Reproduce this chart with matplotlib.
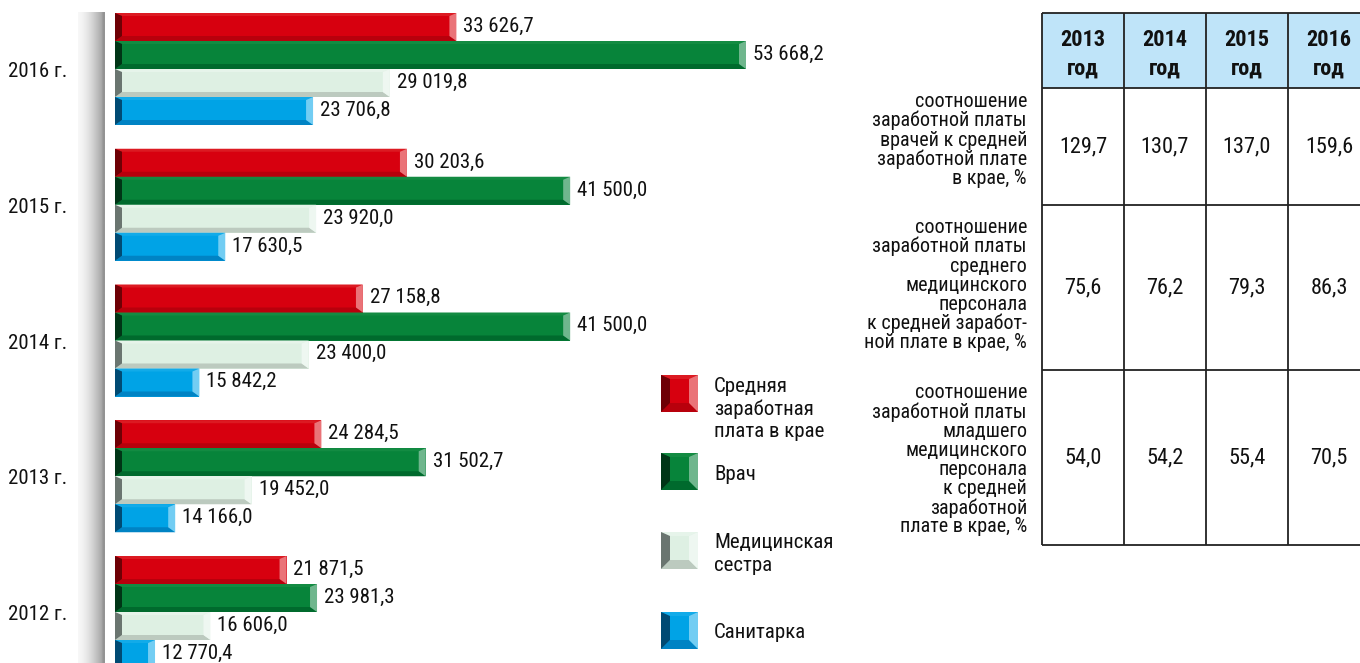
import numpy as np
import matplotlib
matplotlib.use("Agg")
import matplotlib.pyplot as plt
from matplotlib.patches import Polygon, Rectangle
from matplotlib import font_manager as fm

# ---------------- data ----------------
years = ["2016 г.", "2015 г.", "2014 г.", "2013 г.", "2012 г."]
avg_region = [33626.7, 30203.6, 27158.8, 24284.5, 21871.5]
doctor = [53668.2, 41500.0, 41500.0, 31502.7, 23981.3]
nurse = [29019.8, 23920.0, 23400.0, 19452.0, 16606.0]
junior = [23706.8, 17630.5, 15842.2, 14166.0, 12770.4]
series_names = ["Средняя\nзаработная\nплата в крае", "Врач", "Медицинская\nсестра", "Санитарка"]

table_cols = ["2013\nгод", "2014\nгод", "2015\nгод", "2016\nгод"]
table_rows = [
    "соотношение\nзаработной платы\nврачей к средней\nзаработной плате\nв крае, %",
    "соотношение\nзаработной платы\nсреднего\nмедицинского\nперсонала\nк средней заработ-\nной плате в крае, %",
    "соотношение\nзаработной платы\nмладшего\nмедицинского\nперсонала\nк средней\nзаработной\nплате в крае, %",
]
ratio_doctor = ["129,7", "130,7", "137,0", "159,6"]
ratio_nurse = ["75,6", "76,2", "79,3", "86,3"]
ratio_junior = ["54,0", "54,2", "55,4", "70,5"]

# ---------------- fonts ----------------
avail = {f.name for f in fm.fontManager.ttflist}
FONT = next((f for f in ["Roboto Condensed", "PT Sans Narrow", "Liberation Sans Narrow", "Roboto", "DejaVu Sans"]
             if f in avail), "DejaVu Sans")
plt.rcParams["font.family"] = [FONT, "DejaVu Sans"]

W, H = 1360, 663
fig = plt.figure(figsize=(W / 100, H / 100), dpi=100)
fig.patch.set_facecolor("white")

def fx(px):
    return px / W

def fy(py):
    return 1 - py / H

# ---------------- main bar axes ----------------
ax_left, ax_right = 115, 835
x0v = 10000.0
scale = 631 / (53668.2 - x0v)  # px per unit
xmax = x0v + (ax_right - ax_left) / scale
ax = fig.add_axes([fx(ax_left), 0, fx(ax_right - ax_left), 1])
ax.set_xlim(x0v, xmax)
grp = 135.75
ax.set_ylim((H - 69) / grp, -69 / grp)
ax.axis("off")

bar_h = 28 / grp
colors = [
    # body, bottom, top, left cap, right cap
    ("#d7000f", "#b8000c", "#dc1a22", "#6e0005", "#ea7378"),
    ("#07843a", "#006a2d", "#138b42", "#003516", "#6fb68d"),
    ("#def0e3", "#bccabf", "#e6f4ea", "#6a7570", "#eef7f1"),
    ("#00a3e6", "#0083c4", "#12abe9", "#004a73", "#72cdf3"),
]
all_series = [avg_region, doctor, nurse, junior]
bw = 7 / scale          # bevel width in data units
bb = 5 / 28 * bar_h     # bottom bevel height
bt = 3 / 28 * bar_h

yidx = np.arange(len(years))
for s, (vals, col) in enumerate(zip(all_series, colors)):
    yc = yidx + (s - 1.5) * bar_h
    ax.barh(yc, np.array(vals) - x0v, left=x0v, height=bar_h, color=col[0], linewidth=0)
    for yv, v in zip(yc, vals):
        yt, yb = yv - bar_h / 2, yv + bar_h / 2
        x1 = v
        ax.add_patch(Polygon([(x0v, yb), (x0v + bw, yb - bb), (x1 - bw, yb - bb), (x1, yb)],
                             closed=True, color=col[1], lw=0))
        ax.add_patch(Polygon([(x0v, yt), (x0v + bw, yt + bt), (x1 - bw, yt + bt), (x1, yt)],
                             closed=True, color=col[2], lw=0))
        ax.add_patch(Polygon([(x0v, yt), (x0v + bw, yt + bt), (x0v + bw, yb - bb), (x0v, yb)],
                             closed=True, color=col[3], lw=0))
        ax.add_patch(Polygon([(x1, yt), (x1 - bw, yt + bt), (x1 - bw, yb - bb), (x1, yb)],
                             closed=True, color=col[4], lw=0))
        lab = f"{v:,.1f}".replace(",", " ").replace(".", ",")
        ax.annotate(lab, (x1, yv), xytext=(5, 0.5), textcoords="offset points",
                    ha="left", va="center", fontsize=15, color="#111111")

# year labels
for i, y in enumerate(years):
    ax.text(-48 / scale + x0v, i + 0.02, y, ha="right", va="center", fontsize=15, color="#111111",
            clip_on=False)

# ---------------- gray strip ----------------
sax = fig.add_axes([fx(78), 0, fx(26), fy(12)])
grad = np.linspace(0, 1, 200)
vals = np.concatenate([0.97 - 0.33 * grad ** 1.6, np.full(20, 0.58)])
sax.imshow(np.tile(vals, (2, 1)), cmap="gray", vmin=0, vmax=1, aspect="auto", interpolation="bilinear")
sax.axis("off")

# ---------------- overlay (legend + table) ----------------
ov = fig.add_axes([0, 0, 1, 1])
ov.set_xlim(0, W)
ov.set_ylim(H, 0)
ov.axis("off")
ov.patch.set_alpha(0)

leg_y = [375, 453, 532, 612]
lx, ls = 661, 37
lbw, lbb, lbt = 9, 9, 4
for (col, name, yy) in zip(colors, series_names, leg_y):
    xa, xb, ya, yb = lx, lx + ls, yy, yy + ls
    ov.add_patch(Rectangle((xa, ya), ls, ls, color=col[0], lw=0))
    ov.add_patch(Polygon([(xa, yb), (xa + lbw, yb - lbb), (xb - lbw, yb - lbb), (xb, yb)], color=col[1], lw=0))
    ov.add_patch(Polygon([(xa, ya), (xa + lbw, ya + lbt), (xb - lbw, ya + lbt), (xb, ya)], color=col[2], lw=0))
    ov.add_patch(Polygon([(xa, ya), (xa + lbw, ya + lbt), (xa + lbw, yb - lbb), (xa, yb)], color=col[3], lw=0))
    ov.add_patch(Polygon([(xb, ya), (xb - lbw, ya + lbt), (xb - lbw, yb - lbb), (xb, yb)], color=col[4], lw=0))

leg_text_y = [409, 474, 554, 632]
for name, ty in zip(series_names, leg_text_y):
    ov.text(714, ty, name, ha="left", va="center", fontsize=15, linespacing=1.22, color="#111111")

# table
col_x = [1042, 1124, 1206, 1288, 1375]
row_y = [13, 88, 205, 370, 545]
row_label_cy = [140, 285, 460]
ov.add_patch(Rectangle((col_x[0], row_y[0]), col_x[-1] - col_x[0], row_y[1] - row_y[0],
                       facecolor="#bfe4f9", edgecolor="none"))
for xv in col_x[:-1]:
    ov.plot([xv, xv], [row_y[0], row_y[-1]], color="#222222", lw=1.3, solid_capstyle="butt")
for yv in row_y:
    ov.plot([col_x[0], W + 5], [yv, yv], color="#222222", lw=1.3, solid_capstyle="butt")

for j, c in enumerate(table_cols):
    cx = (col_x[j] + min(col_x[j + 1], 1370)) / 2
    ov.text(cx, (row_y[0] + row_y[1]) / 2 + 4, c, ha="center", va="center", fontsize=16,
            fontweight="bold", linespacing=1.4, color="#111111")

for r, vals_r in enumerate([ratio_doctor, ratio_nurse, ratio_junior]):
    cy = (row_y[r + 1] + row_y[r + 2]) / 2
    for j, v in enumerate(vals_r):
        cx = (col_x[j] + min(col_x[j + 1], 1370)) / 2
        ov.text(cx, cy, v, ha="center", va="center", fontsize=16, color="#111111")
    ov.text(1027, row_label_cy[r], table_rows[r], ha="right", va="center", fontsize=14.5,
            linespacing=1.0, color="#111111")

fig.savefig("out.png", dpi=100, facecolor="white")
